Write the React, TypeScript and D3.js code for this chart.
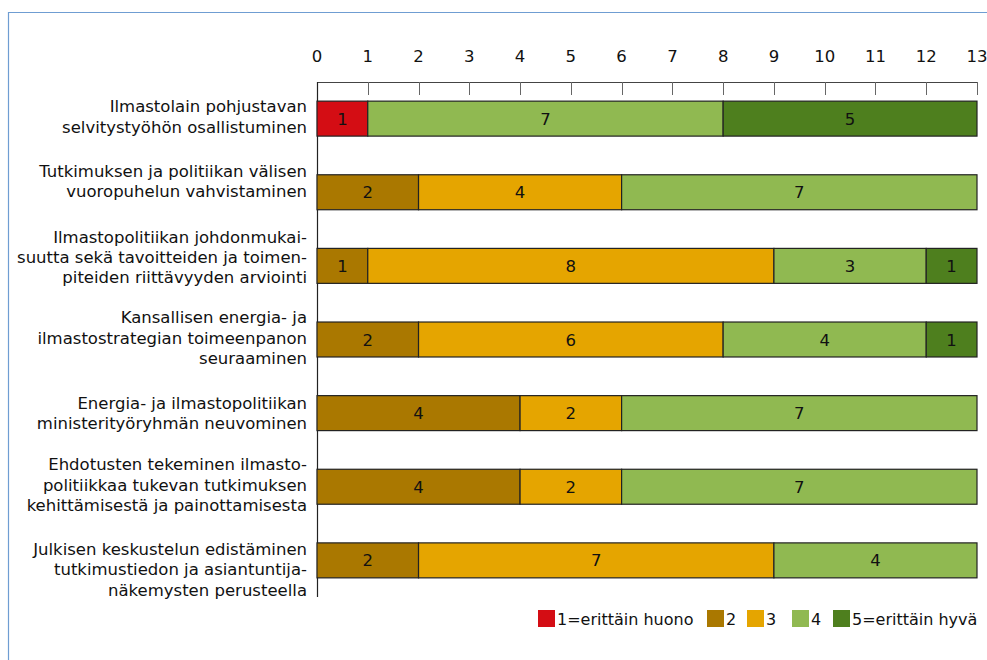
import React from "react";
import * as d3 from "d3";

const categories: string[][] = [
  ["Ilmastolain pohjustavan", "selvitystyöhön osallistuminen"],
  ["Tutkimuksen ja politiikan välisen", "vuoropuhelun vahvistaminen"],
  ["Ilmastopolitiikan johdonmukai-", "suutta sekä tavoitteiden ja toimen-", "piteiden riittävyyden arviointi"],
  ["Kansallisen energia- ja", "ilmastostrategian toimeenpanon", "seuraaminen"],
  ["Energia- ja ilmastopolitiikan", "ministerityöryhmän neuvominen"],
  ["Ehdotusten tekeminen ilmasto-", "politiikkaa tukevan tutkimuksen", "kehittämisestä ja painottamisesta"],
  ["Julkisen keskustelun edistäminen", "tutkimustiedon ja asiantuntija-", "näkemysten perusteella"],
];

const s1 = [1, 0, 0, 0, 0, 0, 0];
const s2 = [0, 2, 1, 2, 4, 4, 2];
const s3 = [0, 4, 8, 6, 2, 2, 7];
const s4 = [7, 7, 3, 4, 7, 7, 4];
const s5 = [5, 0, 1, 1, 0, 0, 0];

const seriesNames = ["1=erittäin huono", "2", "3", "4", "5=erittäin hyvä"];
const seriesColors = ["#D40D14", "#AA7800", "#E5A500", "#90B951", "#4E7F1E"];
const ticks = [0, 1, 2, 3, 4, 5, 6, 7, 8, 9, 10, 11, 12, 13];
const labelShift = [-2, -11, -9, -2, 0, -2, 9];

const FONT = "'DejaVu Sans', 'Open Sans', sans-serif";

export default function App() {
  const W = 987, H = 660;
  const x = d3.scaleLinear().domain([0, 13]).range([317, 977]);
  const y = d3.scaleBand<number>().domain(d3.range(categories.length)).range([82, 597]).paddingInner(0.525).paddingOuter(0.26);
  const series = [s1, s2, s3, s4, s5];
  const rows = categories.map((_, i) => {
    let acc = 0;
    return series.map((s, k) => {
      const v = s[i];
      const seg = { k, x0: acc, x1: acc + v, v };
      acc += v;
      return seg;
    });
  });
  const legendX = [538, 707, 747, 792, 833];
  return (
    <svg width={W} height={H} style={{ position: "absolute", left: 0, top: 0, background: "#fff" }} fontFamily={FONT}>
      <rect x={0} y={0} width={W} height={H} fill="#fff" />
      <path d={`M8.5,${H} V12.5 H${W}`} fill="none" stroke="#6F9DD2" strokeWidth={1.2} />
      <line x1={x(0)} x2={x(13)} y1={82.5} y2={82.5} stroke="#444" strokeWidth={1} />
      <line x1={317.5} x2={317.5} y1={82} y2={597} stroke="#222" strokeWidth={1.2} />
      {ticks.map((t) => (
        <g key={t}>
          {t > 0 && <line x1={Math.round(x(t)) + 0.5} x2={Math.round(x(t)) + 0.5} y1={82} y2={95} stroke="#666" strokeWidth={1} />}
          <text x={x(t)} y={62} textAnchor="middle" fontSize={16.5} fill="#111">{t}</text>
        </g>
      ))}
      {rows.map((segs, i) => (
        <g key={i}>
          {segs.filter((s) => s.v > 0).map((s) => (
            <g key={s.k}>
              <rect x={x(s.x0)} y={y(i)!} width={x(s.x1) - x(s.x0)} height={y.bandwidth()} fill={seriesColors[s.k]} stroke="#222" strokeWidth={1.2} />
              <text x={(x(s.x0) + x(s.x1)) / 2} y={y(i)! + y.bandwidth() / 2 + 6} textAnchor="middle" fontSize={16.5} fill="#111">{s.v}</text>
            </g>
          ))}
          {categories[i].map((line, j) => (
            <text key={j} x={307} y={y(i)! + y.bandwidth() / 2 + labelShift[i] + (j - (categories[i].length - 1) / 2) * 20.3 + 6} textAnchor="end" fontSize={16.5} fill="#111">{line}</text>
          ))}
        </g>
      ))}
      {seriesNames.map((n, k) => (
        <g key={k}>
          <rect x={legendX[k]} y={610} width={17} height={17} fill={seriesColors[k]} />
          <text x={legendX[k] + 19} y={625} fontSize={16} fill="#111">{n}</text>
        </g>
      ))}
    </svg>
  );
}
